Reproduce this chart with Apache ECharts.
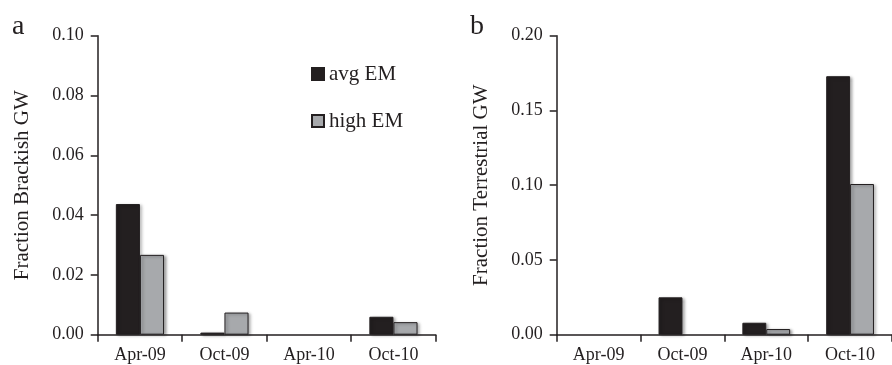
<!DOCTYPE html>
<html>
<head>
<meta charset="utf-8">
<script src="https://cdn.jsdelivr.net/npm/echarts@6/dist/echarts.min.js"></script>
<style>html,body{margin:0;padding:0;background:#fff}#c{width:892px;height:365px}</style>
</head>
<body>
<div id="c"></div>
<script>
const categories = ['Apr-09', 'Oct-09', 'Apr-10', 'Oct-10'];
const seriesNames = ['avg EM', 'high EM'];
const brackishAvg = [0.0437, 0.0007, 0, 0.0060];
const brackishHigh = [0.0267, 0.0074, 0, 0.0042];
const terrestrialAvg = [0, 0.0250, 0.0080, 0.1729];
const terrestrialHigh = [0, 0, 0.0038, 0.1008];
const brackishTicks = { min: 0, max: 0.10, interval: 0.02 };
const terrestrialTicks = { min: 0, max: 0.20, interval: 0.05 };

const ink = '#231f20';
const grayFill = '#a7a9ac';
const font = 'Liberation Serif';

const chart = echarts.init(document.getElementById('c'), null, { renderer: 'canvas' });

function xAxis(gi) {
  return {
    type: 'category', gridIndex: gi, data: categories,
    axisLine: { lineStyle: { color: ink, width: 1.5 } },
    axisTick: { show: true, length: 7, lineStyle: { color: ink, width: 1.5 } },
    axisLabel: { color: ink, fontFamily: font, fontSize: 18, margin: 12 },
    splitLine: { show: false }
  };
}
function yAxis(gi, t, name) {
  return {
    type: 'value', gridIndex: gi, min: t.min, max: t.max, interval: t.interval,
    name: name, nameLocation: 'middle', nameGap: 65,
    nameTextStyle: { color: ink, fontFamily: font, fontSize: 21 },
    axisLine: { show: true, lineStyle: { color: ink, width: 1.5 } },
    axisTick: { show: true, length: 7, lineStyle: { color: ink, width: 1.5 } },
    axisLabel: { color: ink, fontFamily: font, fontSize: 18, margin: 14, formatter: v => v.toFixed(2) },
    splitLine: { show: false }
  };
}
function bar(name, gi, data, color) {
  return {
    name: name, type: 'bar', xAxisIndex: gi, yAxisIndex: gi,
    data: data.map(v => v === 0 ? { value: 0, itemStyle: { borderWidth: 0, shadowBlur: 0, shadowOffsetX: 0, shadowOffsetY: 0 } } : v),
    barGap: '0%', barCategoryGap: '43%',
    itemStyle: {
      color: color, borderColor: ink, borderWidth: 1,
      shadowColor: 'rgba(0,0,0,0.35)', shadowBlur: 3, shadowOffsetX: 2, shadowOffsetY: 1
    },
    emphasis: { disabled: true },
    animation: false
  };
}

chart.setOption({
  animation: false,
  backgroundColor: '#fff',
  grid: [
    { left: 97.7, top: 35.7, width: 338, height: 299 },
    { left: 556.7, top: 35.7, width: 337, height: 299 }
  ],
  xAxis: [xAxis(0), xAxis(1)],
  yAxis: [yAxis(0, brackishTicks, 'Fraction Brackish GW'), yAxis(1, terrestrialTicks, 'Fraction Terrestrial GW')],
  legend: {
    data: seriesNames, orient: 'vertical', left: 311, top: 63.5,
    itemWidth: 12, itemHeight: 12, itemGap: 26, icon: 'rect',
    textStyle: { color: ink, fontFamily: font, fontSize: 21, lineHeight: 21, padding: [0, 0, 0, 0] },
    padding: 0, selectedMode: false
  },
  graphic: [
    { type: 'text', left: 12, top: 13, style: { text: 'a', font: '28px "Liberation Serif"', fill: ink } },
    { type: 'text', left: 470, top: 13, style: { text: 'b', font: '28px "Liberation Serif"', fill: ink } }
  ],
  series: [
    bar(seriesNames[0], 0, brackishAvg, ink),
    bar(seriesNames[1], 0, brackishHigh, grayFill),
    bar(seriesNames[0], 1, terrestrialAvg, ink),
    bar(seriesNames[1], 1, terrestrialHigh, grayFill)
  ]
});
</script>
</body>
</html>
